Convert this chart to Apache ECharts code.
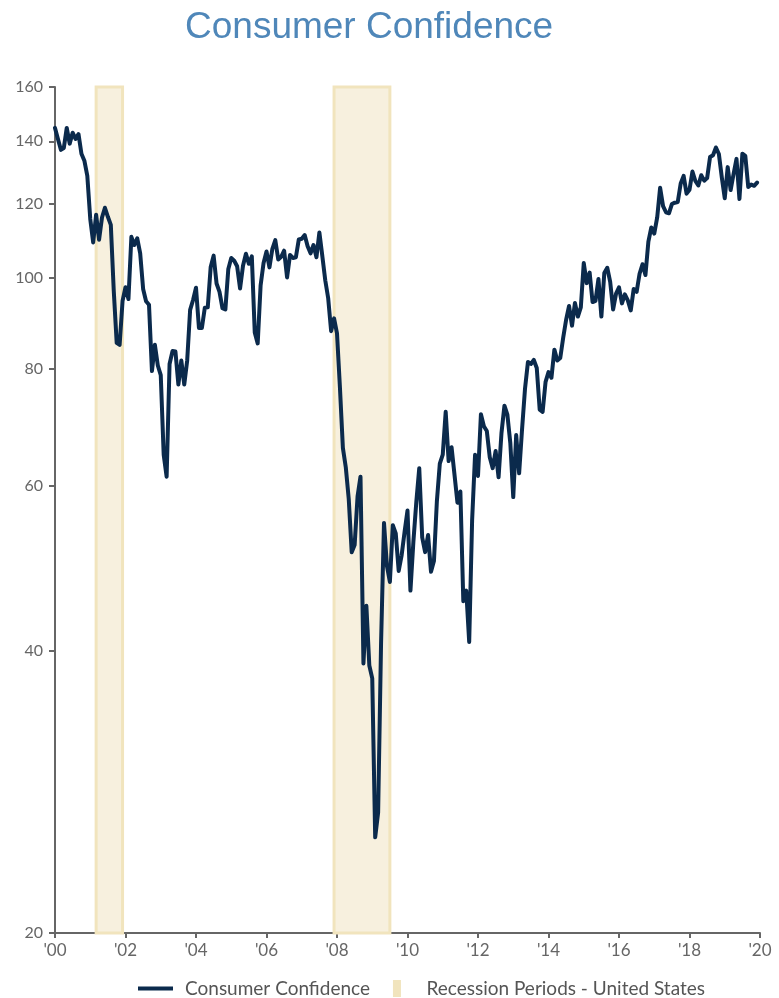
<!DOCTYPE html>
<html>
<head>
<meta charset="utf-8">
<script src="https://cdn.jsdelivr.net/npm/echarts@6/dist/echarts.min.js"></script>
<style>
html,body{margin:0;padding:0;background:#fff;}
#chart{width:779px;height:998px;}
</style>
</head>
<body>
<div id="chart"></div>
<script>
// Monthly Consumer Confidence, Jan 2000 .. Dec 2019
const startYear = 2000;
const cc2000 = [144.7,140.8,137.1,137.7,144.7,139.2,143.0,140.8,142.5,135.8,133.5,128.6];
const cc2001 = [115.7,109.2,116.9,109.9,116.1,118.9,116.3,114.0,97.0,85.3,84.9,94.6];
const cc2002 = [97.8,95.0,110.7,108.5,110.3,106.3,97.4,94.5,93.7,79.6,84.9,80.7];
const cc2003 = [78.8,64.8,61.4,81.0,83.6,83.5,77.0,81.7,77.0,81.7,92.5,94.8];
const cc2004 = [97.7,88.5,88.5,93.0,93.1,102.8,105.7,98.7,96.7,92.9,92.6,102.3];
const cc2005 = [105.1,104.4,103.0,97.5,103.1,106.2,103.6,105.5,87.5,85.2,98.3,103.8];
const cc2006 = [106.8,102.7,107.5,109.8,104.7,105.4,107.0,100.2,105.9,105.1,105.3,110.0];
const cc2007 = [110.2,111.2,108.2,106.3,108.5,105.3,111.9,105.6,99.5,95.2,87.8,90.6];
const cc2008 = [87.3,76.4,65.9,62.8,58.1,51.0,51.9,58.5,61.4,38.8,44.7,38.6];
const cc2009 = [37.4,25.3,26.9,40.8,54.8,49.3,47.4,54.5,53.4,48.7,50.6,53.6];
const cc2010 = [56.5,46.4,52.3,57.7,62.7,52.9,51.0,53.2,48.6,49.9,57.8,63.4];
const cc2011 = [64.8,72.0,63.8,66.0,61.7,57.6,59.2,45.2,46.4,40.9,55.2,64.8];
const cc2012 = [61.5,71.6,69.5,68.7,64.4,62.7,65.4,61.3,68.4,73.1,71.5,66.7];
const cc2013 = [58.4,68.0,61.9,69.0,76.2,81.4,81.0,81.8,80.2,72.4,72.0,77.5];
const cc2014 = [79.4,78.3,83.9,81.7,82.2,86.4,90.3,93.4,89.0,94.1,91.0,93.1];
const cc2015 = [103.8,98.8,101.4,94.3,94.6,99.8,91.0,101.3,102.6,99.1,92.6,96.3];
const cc2016 = [97.8,94.0,96.1,94.7,92.4,97.4,96.7,101.1,103.5,100.8,109.4,113.3];
const cc2017 = [111.6,116.1,124.9,119.4,117.6,117.3,120.0,120.4,120.6,126.2,128.6,123.1];
const cc2018 = [124.3,130.0,127.0,125.6,128.8,127.1,127.9,134.7,135.3,137.9,135.7,128.1];
const cc2019 = [121.7,131.4,124.2,129.2,134.1,121.5,135.8,135.1,125.1,125.9,125.5,126.5];

const recessions = [[2001 + 2/12, 2001 + 11/12], [2007 + 11/12, 2009 + 6/12]];
const yTicks = [20, 40, 60, 80, 100, 120, 140, 160];

const years = [cc2000,cc2001,cc2002,cc2003,cc2004,cc2005,cc2006,cc2007,cc2008,cc2009,
               cc2010,cc2011,cc2012,cc2013,cc2014,cc2015,cc2016,cc2017,cc2018,cc2019];
const seriesData = [];
years.forEach((arr, yi) => arr.forEach((v, m) => seriesData.push([startYear + yi + m / 12, v])));

const chart = echarts.init(document.getElementById('chart'));
const labelFont = 'Lato, "Open Sans", sans-serif';
chart.setOption({
  animation: false,
  title: {
    text: 'Consumer Confidence',
    left: 180, top: 4,
    textStyle: { color: '#4f87b9', fontSize: 37, fontWeight: 'normal', fontFamily: '"Liberation Sans", Arial, sans-serif' }
  },
  grid: { left: 55, right: 19, top: 87, bottom: 65, containLabel: false },
  legend: {
    top: 979, left: 138, padding: 0,
    itemWidth: 35, itemHeight: 17, itemGap: 23,
    textStyle: { color: '#555', fontSize: 19, fontFamily: labelFont, padding: [0, 0, 0, 7] },
    data: [
      { name: 'Consumer Confidence', icon: 'path://M0,0 L35,0 L35,4 L0,4 Z' },
      { name: 'Recession Periods - United States', icon: 'path://M0,0 L8,0 L8,17 L0,17 Z' }
    ]
  },
  xAxis: {
    type: 'value', min: 2000, max: 2020, interval: 2,
    axisLine: { lineStyle: { color: '#666', width: 2 } },
    axisTick: { show: true, length: 5, lineStyle: { color: '#666', width: 2 } },
    axisLabel: { color: '#666', fontSize: 17, fontFamily: labelFont, margin: 9,
      formatter: v => "'" + String(v).slice(2) },
    splitLine: { show: false }
  },
  yAxis: {
    type: 'log', logBase: 2, min: 20, max: 160,
    axisLine: { show: true, lineStyle: { color: '#666', width: 2 } },
    axisTick: { show: true, length: 6, lineStyle: { color: '#666', width: 2 }, customValues: yTicks },
    axisLabel: { color: '#666', fontSize: 16, fontFamily: labelFont, margin: 12,
      padding: [0, 0, 10, 0], customValues: yTicks },
    splitLine: { show: false },
    minorTick: { show: false }
  },
  series: [
    {
      name: 'Recession Periods - United States',
      type: 'line', data: [],
      itemStyle: { color: '#f1e4bd' },
      lineStyle: { color: '#f1e4bd' },
      markArea: {
        silent: true,
        itemStyle: { color: '#f7f0de', borderColor: '#f1e4bd', borderWidth: 3 },
        data: recessions.map(r => [{ xAxis: r[0] }, { xAxis: r[1] }])
      }
    },
    {
      name: 'Consumer Confidence',
      type: 'line', data: seriesData,
      showSymbol: false, symbol: 'none',
      itemStyle: { color: '#0b2a4c' },
      lineStyle: { color: '#0b2a4c', width: 4, join: 'round', cap: 'round' },
      z: 5
    }
  ]
});
</script>
</body>
</html>
